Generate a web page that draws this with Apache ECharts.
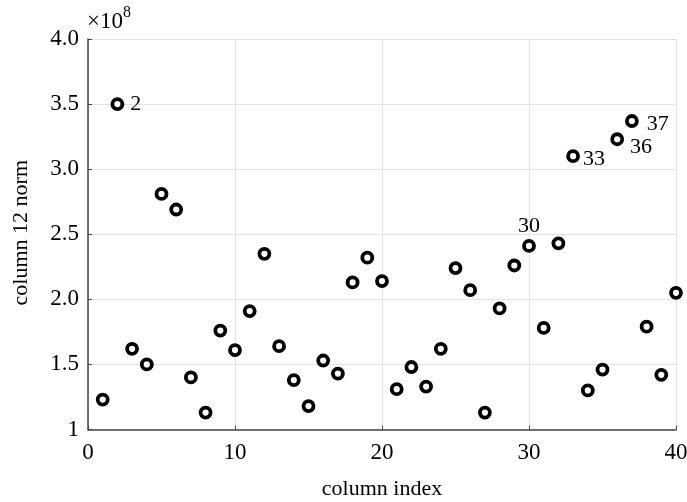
<!DOCTYPE html>
<html>
<head>
<meta charset="utf-8">
<script src="https://cdn.jsdelivr.net/npm/echarts@6/dist/echarts.min.js"></script>
<style>html,body{margin:0;padding:0;background:#fff}#c{width:687px;height:502px}</style>
</head>
<body>
<div id="c"></div>
<script>
const columnIndex = [1,2,3,4,5,6,7,8,9,10,11,12,13,14,15,16,17,18,19,20,21,22,23,24,25,26,27,28,29,30,31,32,33,34,35,36,37,38,39,40];
const norm12 = [1.23,3.50,1.62,1.50,2.81,2.69,1.40,1.13,1.76,1.61,1.91,2.35,1.64,1.38,1.18,1.53,1.43,2.13,2.32,2.14,1.31,1.48,1.33,1.62,2.24,2.07,1.13,1.93,2.26,2.41,1.78,2.43,3.10,1.30,1.46,3.23,3.37,1.79,1.42,2.05];
const labelled = [2,30,33,36,37];
const yTicks = [1,1.5,2,2.5,3,3.5,4];
const xTicks = [0,10,20,30,40];

const FONT = '"Liberation Serif","Times New Roman",serif';
const labelPos = {
  2:  {position:'right', offset:[1,0]},
  30: {position:'top', offset:[0,3]},
  33: {position:'right', offset:[-2,3]},
  36: {position:'right', offset:[1,8]},
  37: {position:'right', offset:[3,3]}
};
const data = columnIndex.map((x,i)=>{
  const d = {value:[x, norm12[i]]};
  if (labelled.indexOf(x) >= 0) {
    d.label = Object.assign({show:true, formatter:String(x), color:'#000', fontFamily:FONT, fontSize:22, distance:5}, labelPos[x]);
  }
  return d;
});

const chart = echarts.init(document.getElementById('c'), null, {renderer:'canvas'});
chart.setOption({
  animation:false,
  grid:{left:88, right:11, top:39, bottom:72.5, containLabel:false, outerBoundsMode:'none'},
  xAxis:{
    type:'value', min:xTicks[0], max:xTicks[xTicks.length-1], interval:10,
    name:'column index', nameLocation:'middle', nameGap:49,
    nameTextStyle:{fontFamily:FONT, fontSize:22, color:'#000'},
    axisLine:{show:true, lineStyle:{color:'#444', width:1.5}},
    axisTick:{show:true, inside:true, length:4, lineStyle:{color:'#444'}},
    axisLabel:{fontFamily:FONT, fontSize:23, color:'#000', margin:12},
    splitLine:{show:true, lineStyle:{color:'#e3e3e3', width:1}}
  },
  yAxis:{
    type:'value', min:yTicks[0], max:yTicks[yTicks.length-1], interval:0.5,
    name:'{a|×10}{b|8}', nameLocation:'end', nameGap:6,
    nameTextStyle:{align:'left', padding:[0,0,0,-1], rich:{
      a:{fontFamily:FONT, fontSize:23, color:'#000', verticalAlign:'bottom'},
      b:{fontFamily:FONT, fontSize:16, color:'#000', verticalAlign:'top', padding:[0,0,12,0]}
    }},
    axisLine:{show:true, lineStyle:{color:'#444', width:1.5}},
    axisTick:{show:true, inside:true, length:4, lineStyle:{color:'#444'}},
    axisLabel:{fontFamily:FONT, fontSize:23, color:'#000', margin:9,
      formatter:function(v){ return v===1 ? '1' : v.toFixed(1); }},
    splitLine:{show:true, lineStyle:{color:'#e3e3e3', width:1}}
  },
  graphic:[{
    type:'text', left:10, top:160,
    rotation:Math.PI/2,
    style:{text:'column 12 norm', font:'22px '+FONT, fill:'#000'}
  }],
  series:[{
    type:'scatter', data:data,
    symbol:'circle', symbolSize:10,
    itemStyle:{color:'#fff', borderColor:'#000', borderWidth:3.8, opacity:1}
  }]
});
</script>
</body>
</html>
